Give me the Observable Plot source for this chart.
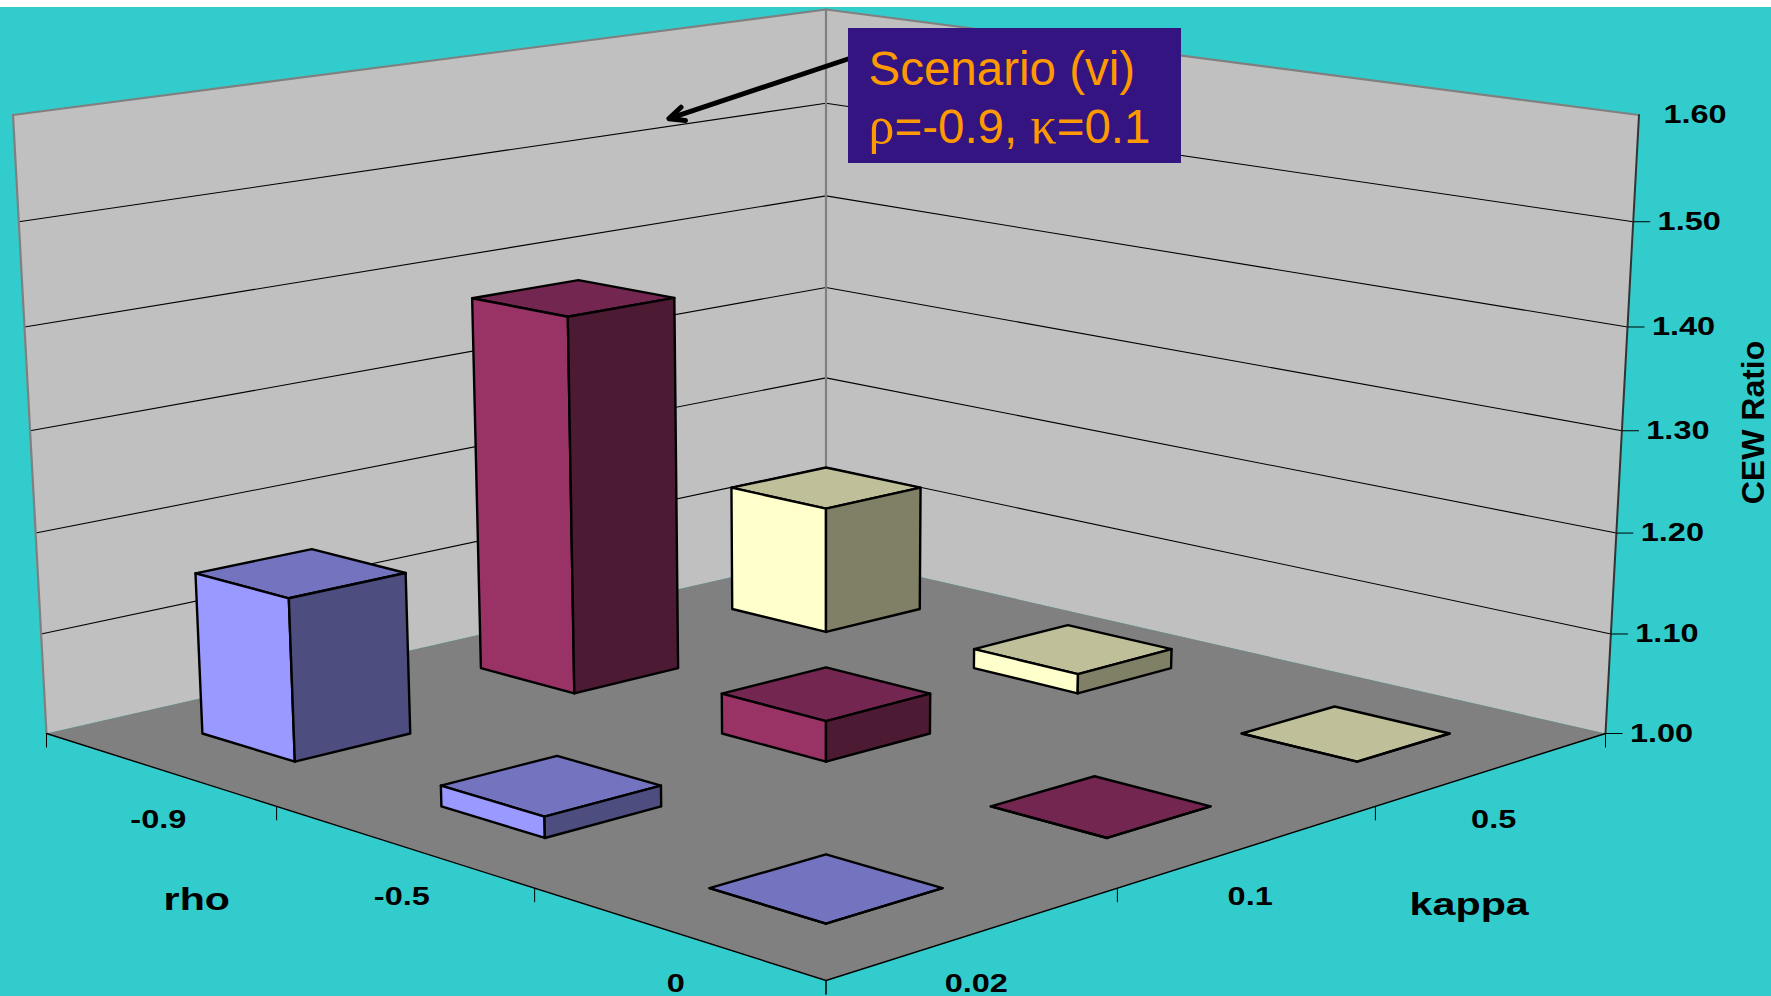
<!DOCTYPE html>
<html>
<head>
<meta charset="utf-8">
<title>CEW Ratio by rho and kappa</title>
<script src="https://cdn.jsdelivr.net/npm/d3@7"></script>
<script src="https://cdn.jsdelivr.net/npm/@observablehq/plot@0.6"></script>
<style>
  html, body { margin: 0; padding: 0; background: #fff; overflow: hidden; }
  svg { display: block; }
</style>
</head>
<body>
<div id="chart"></div>
<script>
// Chart values: one CEW ratio per rho category, listed for each kappa series.
const rhoLabels = ["-0.9", "-0.5", "0"];
const kappaLabels = ["0.02", "0.1", "0.5"];
const ratioKappa002 = [1.16, 1.02, 1.0];
const ratioKappa01 = [1.38, 1.04, 1.0];
const ratioKappa05 = [1.132, 1.02, 1.0];
const ratioTicks = [1.0, 1.1, 1.2, 1.3, 1.4, 1.5, 1.6];
const ratioTickLabels = ["1.00", "1.10", "1.20", "1.30", "1.40", "1.50", "1.60"];

// Face colours for each kappa series: lit side, shaded side, top.
const seriesFaces = [
  {side: "#9999FF", shade: "#4D4D80", top: "#7373BF"},
  {side: "#993366", shade: "#4D1A33", top: "#732650"},
  {side: "#FFFFCC", shade: "#808066", top: "#BFBF99"}
];

const W = 1771, H = 996;
const FONT = "'Liberation Sans', Arial, sans-serif";

// Perspective camera defined by where the box corners land on the canvas.
const camera = {
  left: [46, 733], front: [825.5, 980], right: [1605, 733], back: [825.5, 555],
  topLeft: [12.5, 114.5], topBackY: 9
};

function makeProjection({left, front, right, back, topLeft, topBackY}) {
  const [x0, y0] = left, [x1, y1] = front, [x2, y2] = right, [x3, y3] = back;
  const dx1 = x1 - x2, dx2 = x3 - x2, sx = x0 - x1 + x2 - x3;
  const dy1 = y1 - y2, dy2 = y3 - y2, sy = y0 - y1 + y2 - y3;
  const den = dx1 * dy2 - dx2 * dy1;
  const g = (sx * dy2 - dx2 * sy) / den;
  const h = (dx1 * sy - sx * dy1) / den;
  const a = x1 - x0 + g * x1, b = x3 - x0 + h * x3;
  const d = y1 - y0 + g * y1, e = y3 - y0 + h * y3;
  const m = (topLeft[0] - x0) / (x3 - topLeft[0]);
  const p = x3 * m;
  const q = topLeft[1] * (1 + m) - y0;
  // Extra lift towards the back corner so the rear edge reaches its own height.
  const lift = (topBackY * (1 + h + m) - y3 * (1 + h)) / q - 1;
  return (r, k, z) => {
    const w = g * r + h * k + 1 + m * z;
    return [
      (a * r + b * k + x0 + p * z) / w,
      (d * r + e * k + y0 + q * z * (1 + lift * k * (1 - r))) / w
    ];
  };
}

const project = makeProjection(camera);

// Data-to-box scales: r runs from the left wall to the front, k from the front to the right.
const rhoBand = d3.scaleBand(rhoLabels, [0, 1]).paddingInner(0.6).paddingOuter(0.3);
const kappaBand = d3.scaleBand(kappaLabels, [0, 1]).paddingInner(0.6).paddingOuter(0.3);
const zScale = d3.scaleLinear([1.0, 1.6], [0, 1]);

// Turn a list of box coordinates into vertices of one polygon or polyline.
function shape(id, fill, corners) {
  return corners.map(([r, k, z]) => {
    const [x, y] = project(r, k, z);
    return {id, fill, x, y};
  });
}

// Room: two walls and the floor.
const room = [
  ...shape("wall-left", "#C0C0C0", [[0, 0, 0], [0, 1, 0], [0, 1, 1], [0, 0, 1]]),
  ...shape("wall-right", "#C0C0C0", [[0, 1, 0], [1, 1, 0], [1, 1, 1], [0, 1, 1]]),
  ...shape("floor", "#808080", [[0, 0, 0], [1, 0, 0], [1, 1, 0], [0, 1, 0]])
];

// Horizontal gridlines wrap around both walls; the baseline belongs to the floor.
const gridlines = ratioTicks.slice(1, -1).flatMap(v =>
  shape("grid" + v, "none", [[0, 0, zScale(v)], [0, 1, zScale(v)], [1, 1, zScale(v)]])
);
const wallEdges = [
  ...shape("top", "none", [[0, 0, 1], [0, 1, 1], [1, 1, 1]]),
  ...shape("left-edge", "none", [[0, 0, 0], [0, 0, 1]]),
  ...shape("corner-edge", "none", [[0, 1, 0], [0, 1, 1]])
];
const rightEdge = shape("right-edge", "none", [[1, 1, 0], [1, 1, 1]]);
const frontEdges = shape("front", "none", [[0, 0, 0], [1, 0, 0], [1, 1, 0]]);

// Bars are painted far to near so that closer ones cover those behind.
const bars = [];
const seriesValues = [ratioKappa002, ratioKappa01, ratioKappa05];
rhoLabels.forEach((rho, i) => {
  for (let j = kappaLabels.length - 1; j >= 0; --j) {
    const r0 = rhoBand(rho), r1 = r0 + rhoBand.bandwidth();
    const k0 = kappaBand(kappaLabels[j]), k1 = k0 + kappaBand.bandwidth();
    const z = zScale(seriesValues[j][i]);
    const c = seriesFaces[j], id = `${i}-${j}`;
    bars.push(
      ...shape(id + "top", c.top, [[r0, k0, z], [r1, k0, z], [r1, k1, z], [r0, k1, z]]),
      ...shape(id + "side", c.side, [[r0, k0, 0], [r1, k0, 0], [r1, k0, z], [r0, k0, z]]),
      ...shape(id + "shade", c.shade, [[r1, k0, 0], [r1, k1, 0], [r1, k1, z], [r1, k0, z]])
    );
  }
});

// Tick marks and labels on the three axes.
const TICK_DROP = 14, TICK_OUT = 17, LABEL_DROP = 50.5, LABEL_OUT = 56;
const edgeStops = d3.range(0, 4).map(i => i / 3);
const floorTicks = [
  ...edgeStops.map(r => project(r, 0, 0)),
  ...edgeStops.map(k => project(1, k, 0))
].map(([x, y]) => ({x, y}));
const valueTicks = ratioTicks.slice(0, -1).map(v => {
  const [x, y] = project(1, 1, zScale(v));
  return {x, y};
});
const categoryLabels = [
  ...rhoLabels.map(t => {
    const [x, y] = project(rhoBand(t) + rhoBand.bandwidth() / 2, 0, 0);
    return {x, y: y + LABEL_DROP, text: t};
  }),
  ...kappaLabels.map(t => {
    const [x, y] = project(1, kappaBand(t) + kappaBand.bandwidth() / 2, 0);
    return {x, y: y + LABEL_DROP, text: t};
  })
];
const valueLabels = ratioTicks.map((v, i) => {
  const [x, y] = project(1, 1, zScale(v));
  return {x: x + LABEL_OUT, y, text: ratioTickLabels[i]};
});
const allTickLabels = [...categoryLabels, ...valueLabels];

// Axis titles sit beside the middle of their floor edge.
const [rhoMidX, rhoMidY] = project(0.5, 0, 0);
const [kappaMidX, kappaMidY] = project(1, 0.5, 0);
const axisTitles = [
  {x: rhoMidX - 205, y: rhoMidY + 54, text: "rho"},
  {x: kappaMidX + 219, y: kappaMidY + 59, text: "kappa"}
];

// Callout naming the tall bar's scenario.
const [tipX, tipY] = project(0, 0.78, zScale(1.508));
const callout = {x1: 848, x2: 1181, y1: 28, y2: 163, textX: 868, arrowX: 849, arrowY: 58};
const calloutLines = [
  {text: "Scenario (vi)", y: 69},
  {text: "\u03C1=-0.9, \u03BA=0.1", y: 127}
];

const lineOpts = {x: "x", y: "y", z: "id"};

const chart = Plot.plot({
  width: W,
  height: H,
  margin: 0,
  x: {domain: [0, W], range: [0, W], axis: null},
  y: {domain: [0, H], range: [0, H], axis: null},
  color: {type: "identity"},
  style: {background: "#fff", fontFamily: FONT},
  marks: [
    Plot.rect([{}], {x1: 0, x2: W, y1: 7, y2: H, fill: "#33CCCC"}),
    Plot.line(room, {...lineOpts, fill: "fill", stroke: "none", curve: "linear-closed"}),
    Plot.line(gridlines, {...lineOpts, stroke: "#000", strokeWidth: 1.1}),
    Plot.line(wallEdges, {...lineOpts, stroke: "#808080", strokeWidth: 2.2}),
    Plot.line(rightEdge, {...lineOpts, stroke: "#333", strokeWidth: 2}),
    Plot.line(frontEdges, {...lineOpts, stroke: "#000", strokeWidth: 1.4}),
    Plot.link(floorTicks, {x1: "x", y1: "y", x2: "x", y2: d => d.y + TICK_DROP, stroke: "#000", strokeWidth: 1}),
    Plot.link(valueTicks, {x1: "x", y1: "y", x2: d => d.x + TICK_OUT, y2: "y", stroke: "#000", strokeWidth: 1}),
    Plot.line(bars, {...lineOpts, fill: "fill", stroke: "#000", strokeWidth: 2.4, strokeLinejoin: "round", curve: "linear-closed"}),
    Plot.text(allTickLabels, {x: "x", y: "y", text: "text", fontSize: 26, fontWeight: "bold", fill: "#000"}),
    Plot.text(axisTitles, {x: "x", y: "y", text: "text", fontSize: 31, fontWeight: "bold", fill: "#000"}),
    Plot.text(["CEW Ratio"], {x: () => 1753, y: () => 422, text: d => d, rotate: -90, fontSize: 32, fontWeight: "bold", fill: "#000"}),
    Plot.arrow([{}], {x1: callout.arrowX, y1: callout.arrowY, x2: tipX, y2: tipY, stroke: "#000", strokeWidth: 5, headLength: 5, headAngle: 50, bend: 0}),
    Plot.rect([callout], {x1: "x1", x2: "x2", y1: "y1", y2: "y2", fill: "#331480"}),
    Plot.text(calloutLines, {x: callout.textX, y: "y", text: "text", textAnchor: "start", fontSize: 47.5, fill: "#FF9900"})
  ]
});

// Widen the bold axis text to the proportions used on this chart.
function widen(strings, factor) {
  const wanted = new Set(strings);
  chart.querySelectorAll("text").forEach(t => {
    if (!wanted.has(t.textContent)) return;
    t.setAttribute("transform", `${t.getAttribute("transform") || ""} scale(${factor},1)`);
  });
}
widen(allTickLabels.map(d => d.text), 1.25);
widen(axisTitles.map(d => d.text), 1.33);

// The Greek letters in the callout are set in a larger serif face.
chart.querySelectorAll("text").forEach(t => {
  if (t.textContent !== calloutLines[1].text) return;
  t.innerHTML = t.textContent.replace(/[\u03C1\u03BA]/g,
    c => `<tspan font-family="'Liberation Serif', serif" font-size="52">${c}</tspan>`);
});

document.getElementById("chart").appendChild(chart);
</script>
</body>
</html>
